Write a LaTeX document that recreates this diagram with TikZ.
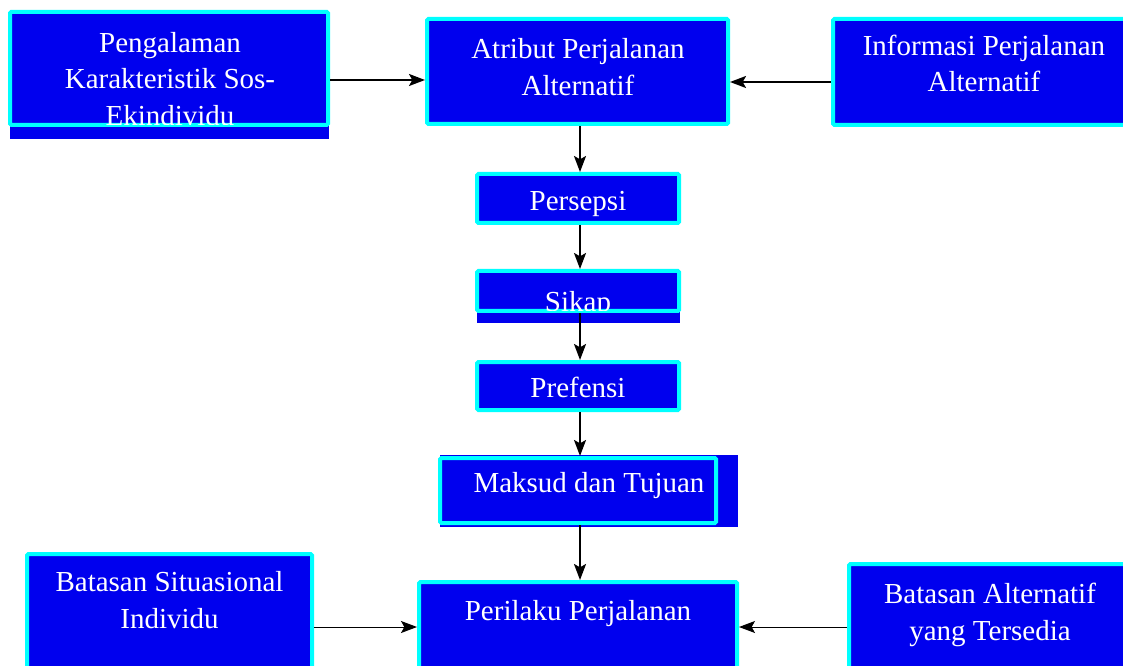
\documentclass[tikz,border=0pt]{standalone}
\usepackage{fontspec}
\setmainfont{Liberation Serif}
\usetikzlibrary{arrows.meta,calc}
\definecolor{boxblue}{RGB}{0,0,238}
\definecolor{boxcyan}{RGB}{0,255,255}
\begin{document}
\begin{tikzpicture}[x=0.75pt,y=-0.75pt,
  box/.style={draw=boxcyan, fill=boxblue, line width=3pt, rounded corners=1pt, inner sep=0pt},
  shadowrect/.style={fill=boxblue},
  lbl/.style={text=white, font=\fontsize{21.75}{27.5}\selectfont, align=center, inner sep=0pt, anchor=base},
  arr/.style={-{Stealth[length=12pt,width=9pt,inset=2.5pt]}, line width=1.5pt},
  thinarr/.style={-{Stealth[length=12pt,width=9pt,inset=2.5pt]}, line width=0.75pt}]
\useasboundingbox (0,0) rectangle (1123,666);

% shadows behind boxes
\fill[shadowrect] (10,125) rectangle (329,139);
\fill[shadowrect] (477,311) rectangle (680,323);
\fill[shadowrect] (440,455) rectangle (738,527);

% boxes
\node[box, minimum width=238.5pt, minimum height=84.75pt] (peng) at (169,68.5) {};
\node[box, minimum width=225.75pt, minimum height=78.75pt] (atr) at (577.5,71.5) {};
\node[box, minimum width=225pt, minimum height=79.5pt] (info) at (983,72) {};
\node[box, minimum width=151.5pt, minimum height=36.75pt] (pers) at (578,198.5) {};
\node[box, minimum width=151.5pt, minimum height=30pt] (sikap) at (578,291) {};
\node[box, minimum width=151.5pt, minimum height=36pt] (pref) at (578,386) {};
\node[box, minimum width=207pt, minimum height=48.75pt] (maks) at (578,490.5) {};
\node[box, minimum width=238.5pt, minimum height=88.5pt] (peril) at (578,641) {};
\node[box, minimum width=213.75pt, minimum height=109.5pt] (bsit) at (169.5,627) {};
\node[box, minimum width=225pt, minimum height=102pt] (balt) at (999,632) {};

% labels (anchor=base is the baseline of the last line)
\begin{scope}
  \clip ([shift={(1.5pt,1.5pt)}]peng.south west) rectangle ([shift={(-1.5pt,-1.5pt)}]peng.north east);
  \node[lbl] (pengt) at (170,125.5) {Pengalaman\\Karakteristik Sos-\\Ekindividu};
\end{scope}
\node[lbl] (atrt) at (578,95.5) {Atribut Perjalanan\\Alternatif};
\node[lbl] (infot) at (984,92) {Informasi Perjalanan\\Alternatif};
\node[lbl] (perst) at (578,211) {Persepsi};
\begin{scope}
  \clip ([shift={(1.5pt,1.5pt)}]sikap.south west) rectangle ([shift={(-1.5pt,-1.5pt)}]sikap.north east);
  \node[lbl] (sikapt) at (578,311) {Sikap};
\end{scope}
\node[lbl] (preft) at (578,397) {Prefensi};
\node[lbl] (makst) at (589,492) {Maksud dan Tujuan};
\node[lbl] (perilt) at (578,620) {Perilaku Perjalanan};
\node[lbl] (bsitt) at (169.5,628) {Batasan Situasional\\Individu};
\node[lbl] (baltt) at (990,640) {Batasan Alternatif\\yang Tersedia};

% connectors
\draw[arr] (peng.east |- 0,80) -- (atr.west |- 0,80);
\draw[arr] (info.west |- 0,82) -- (atr.east |- 0,82);
\draw[arr] (atr.south -| 580,0) -- (pers.north -| 580,0);
\draw[arr] (pers.south -| 580,0) -- (sikap.north -| 580,0);
\draw[arr] (sikap.south -| 580,0) -- (pref.north -| 580,0);
\draw[arr] (pref.south -| 580,0) -- (maks.north -| 580,0);
\draw[arr] (maks.south -| 580,0) -- (peril.north -| 580,0);
\draw[thinarr] (bsit.east |- 0,627) -- (peril.west |- 0,627);
\draw[thinarr] (balt.west |- 0,627) -- (peril.east |- 0,627);
\end{tikzpicture}
\end{document}
